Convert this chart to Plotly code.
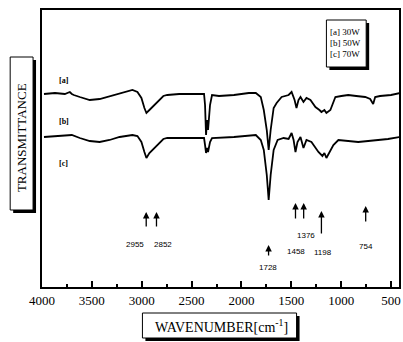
import plotly.graph_objects as go

# ---- data (wavenumber cm-1, relative transmittance) ----
wn_a = [3980, 3870, 3771, 3721, 3701, 3681, 3621, 3521, 3422, 3352, 3222, 3093, 3043, 3003,
        2973, 2953, 2923, 2893, 2863, 2823, 2783, 2744, 2624, 2474, 2375, 2365, 2355, 2345,
        2335, 2315, 2295, 2225, 2075, 1926, 1856, 1806, 1776, 1746, 1727, 1707, 1677, 1647,
        1597, 1527, 1497, 1467, 1448, 1428, 1408, 1378, 1348, 1308, 1258, 1218, 1198, 1168,
        1148, 1108, 1058, 998, 929, 849, 759, 709, 679, 659, 610, 500, 410]
t_a = [193, 194, 193, 195, 193, 192, 190, 187, 188, 190, 194, 197, 195, 189,
       179, 174, 177, 180, 183, 187, 191, 192, 193, 193, 193, 182, 152, 167,
       157, 182, 192, 191, 192, 194, 194, 190, 177, 157, 137, 157, 179, 184,
       190, 192, 195, 187, 179, 187, 190, 185, 189, 187, 180, 177, 175, 177,
       174, 177, 190, 191, 192, 191, 190, 188, 183, 190, 191, 192, 194]

wn_b = [3980, 3870, 3771, 3701, 3621, 3521, 3422, 3322, 3222, 3093, 3043, 3003, 2973, 2953,
        2923, 2893, 2863, 2823, 2783, 2744, 2524, 2375, 2365, 2355, 2345, 2335, 2315, 2295,
        2075, 1856, 1806, 1776, 1746, 1727, 1707, 1677, 1637, 1577, 1527, 1497, 1477, 1458,
        1438, 1408, 1378, 1348, 1298, 1258, 1228, 1188, 1168, 1148, 1118, 1078, 1028, 929,
        829, 729, 630, 530, 410]
t_b = [150, 151, 152, 152, 149, 146, 145, 147, 150, 152, 151, 145, 135, 129,
       134, 137, 141, 145, 148, 149, 149, 149, 142, 134, 139, 135, 145, 149,
       150, 152, 147, 137, 112, 87, 112, 137, 147, 149, 148, 154, 147, 135,
       145, 150, 139, 147, 145, 139, 135, 131, 134, 129, 135, 142, 147, 146,
       145, 146, 147, 148, 150]

series_labels = ["[a]", "[b]", "[c]"]
legend_lines = ["[a] 30W", "[b] 50W", "[c] 70W"]
peaks = [2955, 2852, 1728, 1458, 1376, 1198, 754]
tick_vals = [4000, 3500, 3000, 2500, 2000, 1500, 1000, 500]

# ---- layout helpers (pixel -> paper) ----
L, R, T, B = 42, 2, 10, 55
W, H = 403, 342
PW, PH = W - L - R, H - T - B
def px(x): return (x - L) / PW
def py(y): return (H - B - y) / PH

fig = go.Figure()
for wn, t in ((wn_a, t_a), (wn_b, t_b)):
    fig.add_trace(go.Scatter(x=wn, y=t, mode="lines",
                             line=dict(color="black", width=1.8), showlegend=False))

serif = "Times New Roman, Liberation Serif, serif"
sans = "Arial, Liberation Sans, sans-serif"
fig.update_layout(
    width=W, height=H, margin=dict(l=L, r=R, t=T, b=B),
    paper_bgcolor="white", plot_bgcolor="white",
    font=dict(family=serif, color="black"),
    xaxis=dict(range=[4000, 420], tickvals=tick_vals, ticks="inside", ticklen=6,
               tickwidth=1.5, tickcolor="black", showgrid=False, zeroline=False,
               showline=True, linecolor="black", linewidth=2, mirror=True,
               tickfont=dict(family=serif, size=13, color="black"),
               minor=dict(dtick=250, tick0=0, ticks="inside", ticklen=3, tickcolor="black")),
    yaxis=dict(range=[0, 277], showticklabels=False, ticks="", showgrid=False,
               zeroline=False, showline=True, linecolor="black", linewidth=2, mirror=True),
)

shapes = []
def box(x0, y0, x1, y1, sh=3):
    shapes.append(dict(type="rect", xref="paper", yref="paper", x0=px(x0 + sh), x1=px(x1 + sh),
                       y0=py(y1 + sh), y1=py(y0 + sh), fillcolor="black", line=dict(width=0)))
    shapes.append(dict(type="rect", xref="paper", yref="paper", x0=px(x0), x1=px(x1),
                       y0=py(y1), y1=py(y0), fillcolor="white", line=dict(color="black", width=1)))
box(10, 57, 33, 210, 3)
box(143, 313, 298, 338, 3)
box(328, 20, 368, 67, 3)
fig.update_layout(shapes=shapes)

def note(x, y, text, size, family=serif, angle=0, xanchor="center"):
    return dict(xref="paper", yref="paper", x=px(x), y=py(y), text=text, textangle=angle,
                xanchor=xanchor, yanchor="middle", showarrow=False,
                font=dict(family=family, size=size, color="black"))

ann = []
ann.append(note(21, 138, "TRANSMITTANCE", 13, angle=-90))
ann.append(note(223, 326, "WAVENUMBER[cm<sup>-1</sup>]", 14))
for i, s in enumerate(legend_lines):
    ann.append(note(330, 32 + 11 * i, s, 9, xanchor="left"))
for s, yy in zip(series_labels, [80, 122, 163]):
    ann.append(note(64, yy, "<b>" + s + "</b>", 8))

heads = [212, 212, 245, 203, 203, 211, 206]
tails = [228, 228, 257, 220, 220, 235, 223]
lab_pos = [(136, 244), (164, 244), (269, 267), (297, 251), (307, 235), (325, 252), (368, 247)]
for p, hd, tl, (lx, ly) in zip(peaks, heads, tails, lab_pos):
    ann.append(dict(x=p, y=H - B - hd, xref="x", yref="y", text="", showarrow=True,
                    arrowhead=2, arrowsize=1, arrowwidth=1.3, arrowcolor="black",
                    ax=0, ay=tl - hd))
    ann.append(note(lx, ly, str(p), 8, family=sans))
fig.update_layout(annotations=ann)

fig.write_html("out.html")
